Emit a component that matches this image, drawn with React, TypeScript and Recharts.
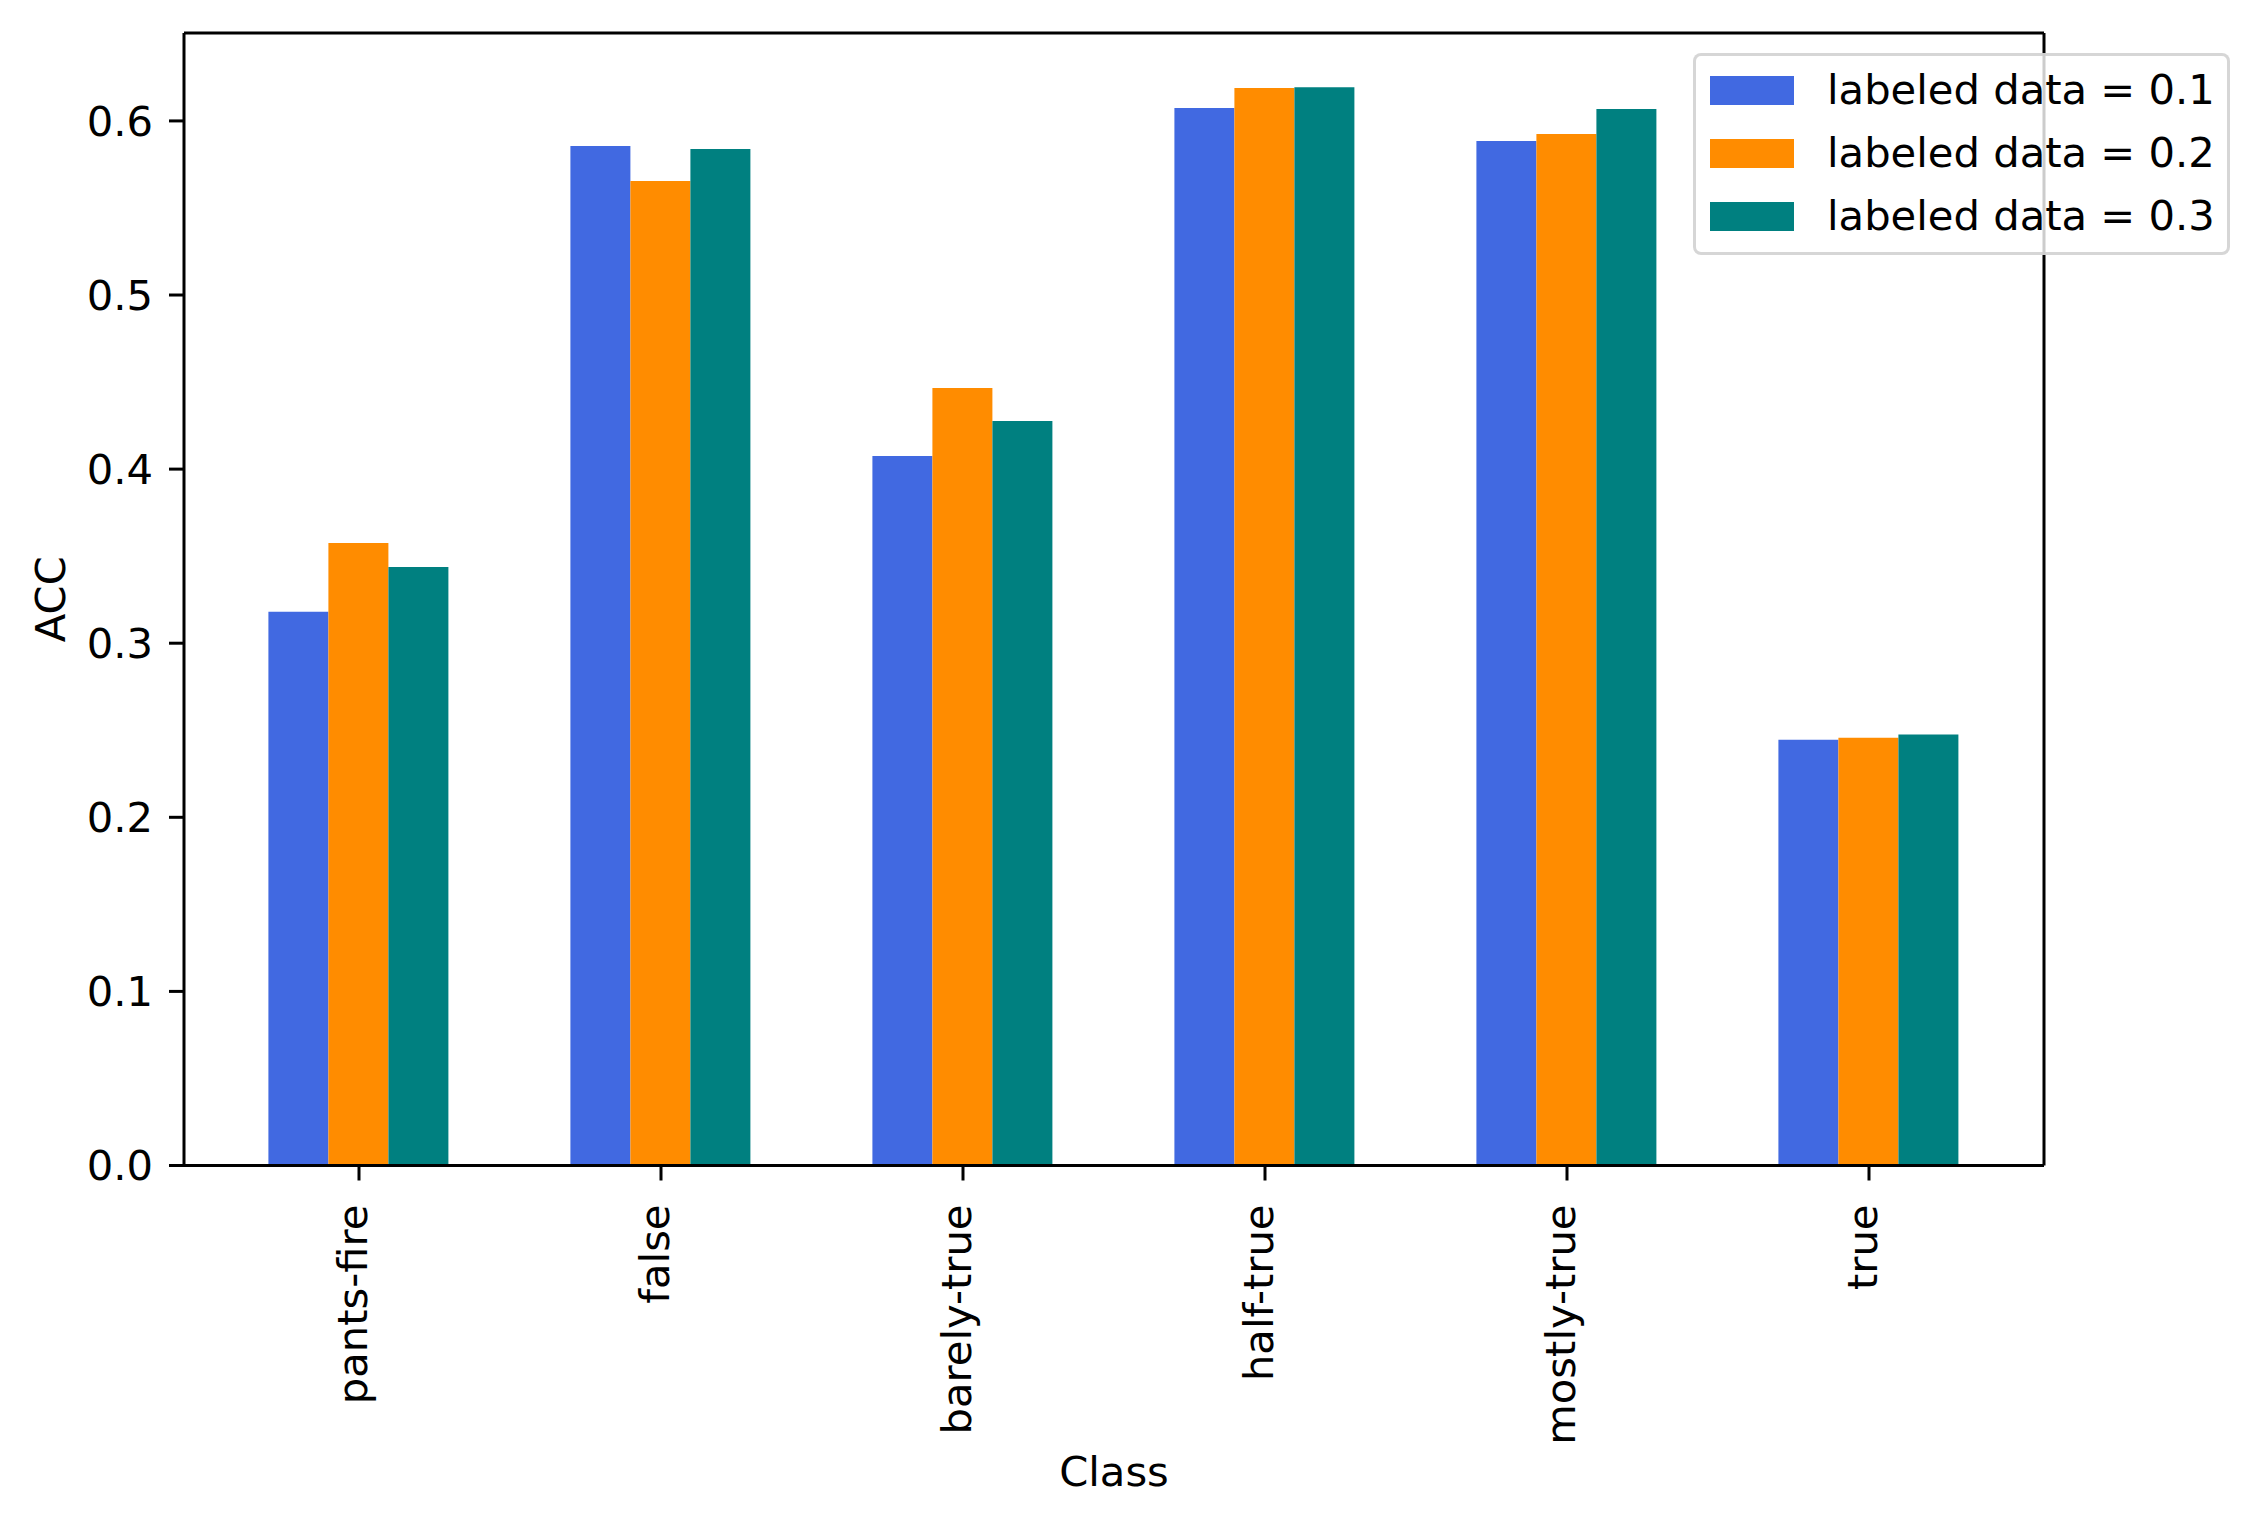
import React from 'react';
import { BarChart, Bar, XAxis, YAxis, Legend } from 'recharts';

const classes = ['pants-fire', 'false', 'barely-true', 'half-true', 'mostly-true', 'true'];
const acc01 = [0.318, 0.5856, 0.4075, 0.6074, 0.5885, 0.2445];
const acc02 = [0.3575, 0.5655, 0.4466, 0.6189, 0.5925, 0.2457];
const acc03 = [0.3438, 0.5839, 0.4277, 0.6194, 0.6068, 0.2475];
const seriesKeys = ['r01', 'r02', 'r03'];
const seriesNames = ['labeled data = 0.1', 'labeled data = 0.2', 'labeled data = 0.3'];
const seriesColors = ['#4169E1', '#FF8C00', '#008080'];
const yTicks = [0, 0.1, 0.2, 0.3, 0.4, 0.5, 0.6];
const yMax = 0.6505;

const data = classes.map((cls, i) => ({ cls, r01: acc01[i], r02: acc02[i], r03: acc03[i] }));

const FONT = "'DejaVu Sans', sans-serif";
const FS = 41.7;
const LW = 3;

const XTick = ({ x, y, payload }: any) => (
  <text
    x={x}
    y={y}
    transform={`rotate(-90, ${x}, ${y})`}
    textAnchor="end"
    dy="0.18em"
    fontFamily={FONT}
    fontSize={FS}
    fill="#000"
  >
    {payload.value}
  </text>
);

// matplotlib style legend box
const LegendBox = () => (
  <div
    style={{
      position: 'relative',
      width: 537,
      height: 202,
      boxSizing: 'border-box',
      border: `${LW}px solid rgba(204,204,204,0.8)`,
      borderRadius: 8,
      background: 'rgba(255,255,255,0.8)',
      fontFamily: FONT,
      fontSize: FS,
      color: '#000',
    }}
  >
    {seriesNames.map((name, i) => (
      <div
        key={name}
        style={{
          position: 'absolute',
          left: 14,
          top: 37 + i * 63 - 25 - LW,
          height: 50,
          display: 'flex',
          alignItems: 'center',
          whiteSpace: 'nowrap',
        }}
      >
        <div style={{ width: 84, height: 29, background: seriesColors[i] }} />
        <span style={{ marginLeft: 33, lineHeight: '50px' }}>{name}</span>
      </div>
    ))}
  </div>
);

const YLabel = ({ viewBox }: any) => {
  const cx = viewBox.x + 50;
  const cy = viewBox.y + viewBox.height / 2;
  return (
    <text
      x={cx}
      y={cy}
      transform={`rotate(-90, ${cx}, ${cy})`}
      textAnchor="middle"
      dominantBaseline="central"
      fontFamily={FONT}
      fontSize={FS}
      fill="#000"
    >
      ACC
    </text>
  );
};

const XLabel = ({ viewBox }: any) => (
  <text
    x={viewBox.x + viewBox.width / 2}
    y={viewBox.y + 320.5}
    textAnchor="middle"
    fontFamily={FONT}
    fontSize={FS}
    fill="#000"
  >
    Class
  </text>
);

export default function App() {
  return (
    <div style={{ position: 'absolute', left: 0, top: 0, background: '#fff' }}>
      <BarChart
        width={2259}
        height={1524}
        data={data}
        margin={{ top: 32, right: 214, bottom: 0, left: 0 }}
        barCategoryGap="20%"
        barGap={0}
      >
        <XAxis
          dataKey="cls"
          height={358.5}
          padding={{ left: 24, right: 24 }}
          interval={0}
          tick={<XTick />}
          tickSize={15}
          tickMargin={24}
          tickLine={{ stroke: '#000', strokeWidth: LW }}
          axisLine={{ stroke: '#000', strokeWidth: LW }}
          label={<XLabel />}
        />
        <XAxis
          xAxisId="top"
          dataKey="cls"
          orientation="top"
          height={1}
          padding={{ left: 24, right: 24 }}
          tick={false}
          tickLine={false}
          axisLine={{ stroke: '#000', strokeWidth: LW }}
        />
        <YAxis
          width={184}
          domain={[0, yMax]}
          ticks={yTicks}
          tickFormatter={(v: number) => v.toFixed(1)}
          tickSize={15}
          tickMargin={16}
          tick={{ fontFamily: FONT, fontSize: FS, fill: '#000' }}
          tickLine={{ stroke: '#000', strokeWidth: LW }}
          axisLine={{ stroke: '#000', strokeWidth: LW }}
          allowDataOverflow
          label={<YLabel />}
        />
        <YAxis
          yAxisId="right"
          orientation="right"
          width={1}
          domain={[0, yMax]}
          tick={false}
          tickLine={false}
          axisLine={{ stroke: '#000', strokeWidth: LW }}
        />
        <Legend
          layout="horizontal"
          verticalAlign="middle"
          align="center"
          content={<LegendBox />}
          wrapperStyle={{ position: 'absolute', left: 1693, top: 53, width: 537, height: 202 }}
        />
        {seriesKeys.map((k, i) => (
          <Bar
            key={k}
            dataKey={k}
            name={seriesNames[i]}
            fill={seriesColors[i]}
            isAnimationActive={false}
          />
        ))}
      </BarChart>
    </div>
  );
}
